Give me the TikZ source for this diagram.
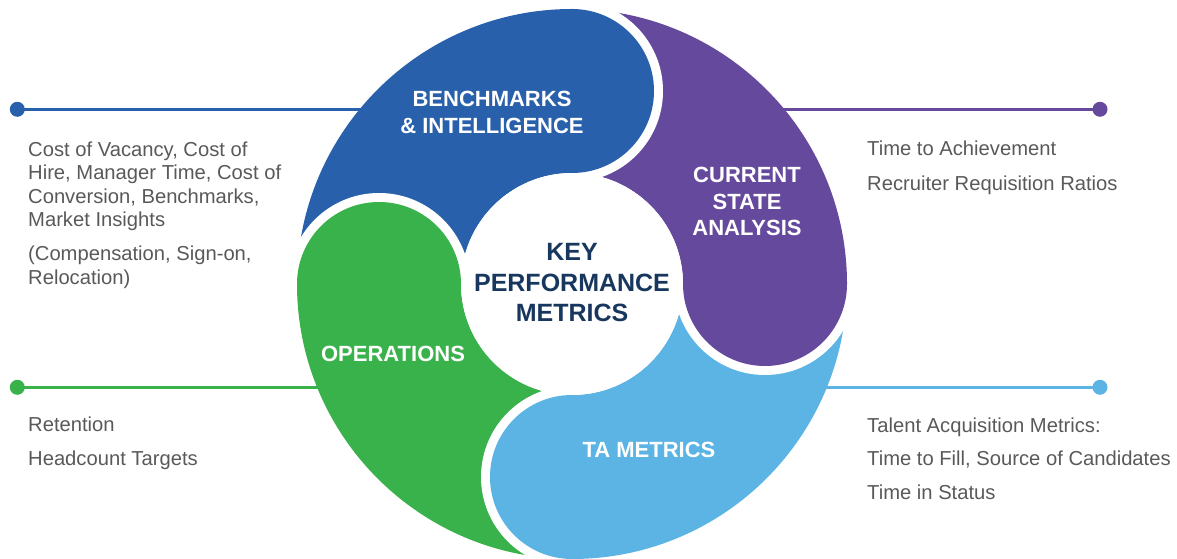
\documentclass[tikz,border=0pt]{standalone}
\usepackage{fontspec}
\setmainfont{Liberation Sans}
\definecolor{segblue}{RGB}{40,96,171}
\definecolor{segpurple}{RGB}{101,73,157}
\definecolor{segsky}{RGB}{91,180,228}
\definecolor{seggreen}{RGB}{58,178,75}
\definecolor{corenavy}{RGB}{23,55,94}
\definecolor{notegray}{RGB}{89,89,89}
% ring geometry (pt): outer / inner radius, mid-line radius, cap radius, white gap
\def\RingOut{275}
\def\RingIn{111}
\def\RingMid{193}
\def\CapR{82}
\def\CapGap{91}
\begin{document}
\begin{tikzpicture}[x=1pt,y=1pt,
  seglabel/.style={font=\bfseries\fontsize{22}{26}\selectfont, text=white, anchor=base, inner sep=0pt},
  corelabel/.style={font=\bfseries\fontsize{25}{30}\selectfont, text=corenavy, anchor=base, inner sep=0pt},
  note/.style={font=\fontsize{20.2}{23}\selectfont, text=notegray, anchor=base west, inner sep=0pt},
  leaddot/.style={circle, minimum size=15pt, inner sep=0pt},
  lead/.style={line width=3pt}]
\useasboundingbox (0,0) rectangle (1177,559);

% leader lines with end dots (drawn first, the ring covers their inner ends)
\node[leaddot, fill=segblue] (dotbi) at (17.3,449.7) {};
\coordinate (endbi) at (420,449.7);
\draw[lead, segblue] (dotbi.center) -- (endbi);
\node[leaddot, fill=segpurple] (dotcs) at (1100,449.7) {};
\coordinate (endcs) at (720,449.7);
\draw[lead, segpurple] (dotcs.center) -- (endcs);
\node[leaddot, fill=seggreen] (dotop) at (17.3,171.7) {};
\coordinate (endop) at (420,171.7);
\draw[lead, seggreen] (dotop.center) -- (endop);
\node[leaddot, fill=segsky] (dotta) at (1100,171.7) {};
\coordinate (endta) at (800,171.7);
\draw[lead, segsky] (dotta.center) -- (endta);

% the ring of four swirl segments
\begin{scope}[shift={(572,275)}]
  % annular sectors: each runs 90 degrees clockwise from its tail to its head
  \foreach \h/\col in {90/segblue, 0/segpurple, -90/segsky, 180/seggreen}{
    \fill[\col] ({\h+90}:\RingOut) arc[start angle={\h+90}, end angle=\h, radius=\RingOut]
      -- (\h:\RingIn) arc[start angle=\h, end angle={\h+90}, radius=\RingIn] -- cycle;
  }
  \node[circle, fill=white, minimum size=222pt, inner sep=0pt] (core) at (0,0) {};
  % rounded heads, each with a white rim cut into the following segment
  \foreach \h/\col in {90/segblue, 0/segpurple, -90/segsky, 180/seggreen}{
    \fill[white] (\h:{\RingMid+\CapGap}) arc[start angle=\h, end angle={\h-180}, radius=\CapGap] -- cycle;
    \fill[\col] (\h:\RingMid) circle[radius=\CapR];
  }
\end{scope}

% segment titles
\node[seglabel] (bi1) at (492,452) {BENCHMARKS};
\node[seglabel] (bi2) at (492,425.5) {\& INTELLIGENCE};
\node[seglabel] (cs1) at (747,376) {CURRENT};
\node[seglabel] (cs2) at (747,349.5) {STATE};
\node[seglabel] (cs3) at (747,323) {ANALYSIS};
\node[seglabel] (op1) at (393,197) {OPERATIONS};
\node[seglabel] (ta1) at (649,101) {TA METRICS};

% centre title
\node[corelabel] (kp1) at (572,298) {KEY};
\node[corelabel] (kp2) at (572,267) {PERFORMANCE};
\node[corelabel] (kp3) at (572,237) {METRICS};

% notes, upper left
\node[note] (n1a) at (28,402.5) {Cost of Vacancy, Cost of};
\node[note] (n1b) at (28,379.2) {Hire, Manager Time, Cost of};
\node[note] (n1c) at (28,355.9) {Conversion, Benchmarks,};
\node[note] (n1d) at (28,332.6) {Market Insights};
\node[note] (n1e) at (28,298) {(Compensation, Sign-on,};
\node[note] (n1f) at (28,274.7) {Relocation)};
% notes, upper right
\node[note] (n2a) at (867,403.5) {Time to Achievement};
\node[note] (n2b) at (867,368.5) {Recruiter Requisition Ratios};
% notes, lower left
\node[note] (n3a) at (28,127.5) {Retention};
\node[note] (n3b) at (28,93.5) {Headcount Targets};
% notes, lower right
\node[note] (n4a) at (867,126.5) {Talent Acquisition Metrics:};
\node[note] (n4b) at (867,93.2) {Time to Fill, Source of Candidates};
\node[note] (n4c) at (867,59.5) {Time in Status};
\end{tikzpicture}
\end{document}
